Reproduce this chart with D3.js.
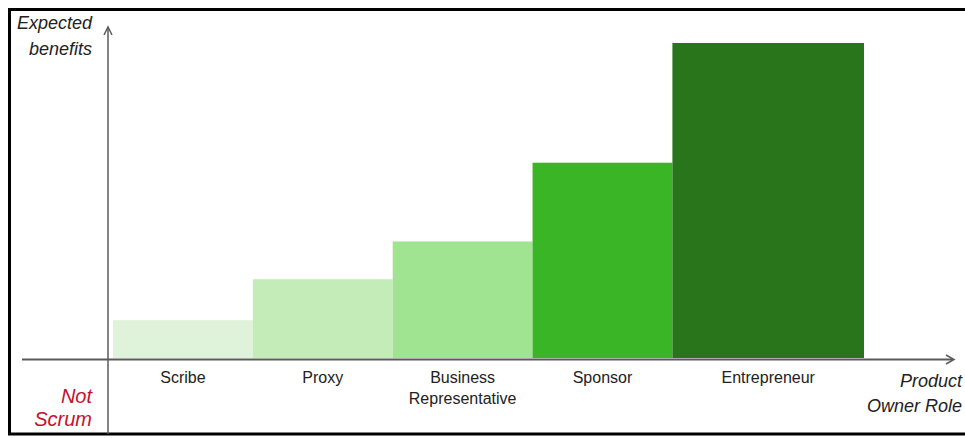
<!DOCTYPE html>
<html>
<head>
<meta charset="utf-8">
<script src="https://cdn.jsdelivr.net/npm/d3@7"></script>
<style>
  html, body { margin: 0; padding: 0; background: #fff; }
  svg { display: block; font-family: "Liberation Sans", Arial, sans-serif; }
</style>
</head>
<body>
<svg id="chart" width="965" height="438"></svg>
<script>
"use strict";

// Product Owner roles and their expected benefits (relative, 0-100)
var roles = ["Scribe", "Proxy", "Business Representative", "Sponsor", "Entrepreneur"],
    benefits = [12, 25, 37, 62, 100],
    colors = ["#dff3da", "#c3ecb9", "#a0e391", "#3ab526", "#28751b"];

(function () {
    var svg = d3.select("#chart"),
        baseY = 358,
        axisX = 108,
        lastSpan = 1.37, // the last bar is drawn wider than the others
        x,
        y,
        bars;

    // frame
    svg.append("rect")
        .attr("x", 9.5).attr("y", 9.5)
        .attr("width", 980).attr("height", 424.5)
        .attr("fill", "none")
        .attr("stroke", "#000")
        .attr("stroke-width", 3);

    x = d3.scaleLinear()
        .domain([0, roles.length - 1 + lastSpan]).range([113, 864]);
    y = d3.scaleLinear()
        .domain([0, 100]).range([baseY, 43]);

    bars = svg.append("g");
    bars.selectAll("rect")
        .data(benefits)
        .enter().append("rect")
        .attr("x", function (d, i) { return x(i); })
        .attr("y", function (d) { return y(d); })
        .attr("width", function (d, i) {
            return (i === roles.length - 1 ? x(i + lastSpan) : x(i + 1)) - x(i);
        })
        .attr("height", function (d) { return y(0) - y(d); })
        .attr("fill", function (d, i) { return colors[i]; });

    // axes with arrow heads
    var axisColor = "#5a5a5a";
    svg.append("line")
        .attr("x1", 22).attr("x2", 953)
        .attr("y1", 359.5).attr("y2", 359.5)
        .attr("stroke", axisColor).attr("stroke-width", 2);
    svg.append("path")
        .attr("d", "M946,355L954,359.5L946,364")
        .attr("fill", "none").attr("stroke", axisColor).attr("stroke-width", 1.5);

    svg.append("line")
        .attr("x1", axisX).attr("x2", axisX)
        .attr("y1", 28).attr("y2", 434)
        .attr("stroke", axisColor).attr("stroke-width", 1.5);
    svg.append("path")
        .attr("d", "M" + (axisX - 4) + ",35L" + axisX + ",27L" + (axisX + 4) + ",35")
        .attr("fill", "none").attr("stroke", axisColor).attr("stroke-width", 1.5);

    // category labels, centred under bars
    var labels = svg.append("g")
        .attr("font-size", "16px")
        .attr("fill", "#222")
        .attr("text-anchor", "middle");
    labels.selectAll("text")
        .data(roles)
        .enter().append("text")
        .attr("transform", function (d, i) {
            var right = i === roles.length - 1 ? x(i + lastSpan) : x(i + 1);
            return "translate(" + ((x(i) + right) / 2) + ",383)";
        })
        .each(function (d) {
            var words = d === "Business Representative" ? ["Business", "Representative"] : [d];
            d3.select(this).selectAll("tspan")
                .data(words)
                .enter().append("tspan")
                .attr("x", 0)
                .attr("dy", function (w, j) { return j ? 21 : 0; })
                .text(function (w) { return w; });
        });

    // axis titles
    function multiline(lines, tx, ty, lh, size, color, italic) {
        var t = svg.append("text")
            .attr("x", tx).attr("y", ty)
            .attr("text-anchor", "end")
            .attr("font-size", size)
            .attr("fill", color)
            .attr("font-style", italic ? "italic" : "normal");
        t.selectAll("tspan")
            .data(lines)
            .enter().append("tspan")
            .attr("x", tx)
            .attr("dy", function (w, j) { return j ? lh : 0; })
            .text(function (w) { return w; });
    }

    multiline(["Expected", "benefits"], 92, 29, 26, "18px", "#222", true);
    multiline(["Product", "Owner Role"], 962, 387, 25, "18px", "#222", true);
    multiline(["Not", "Scrum"], 92, 403, 23, "20px", "#c8102e", true);
}());
</script>
</body>
</html>
